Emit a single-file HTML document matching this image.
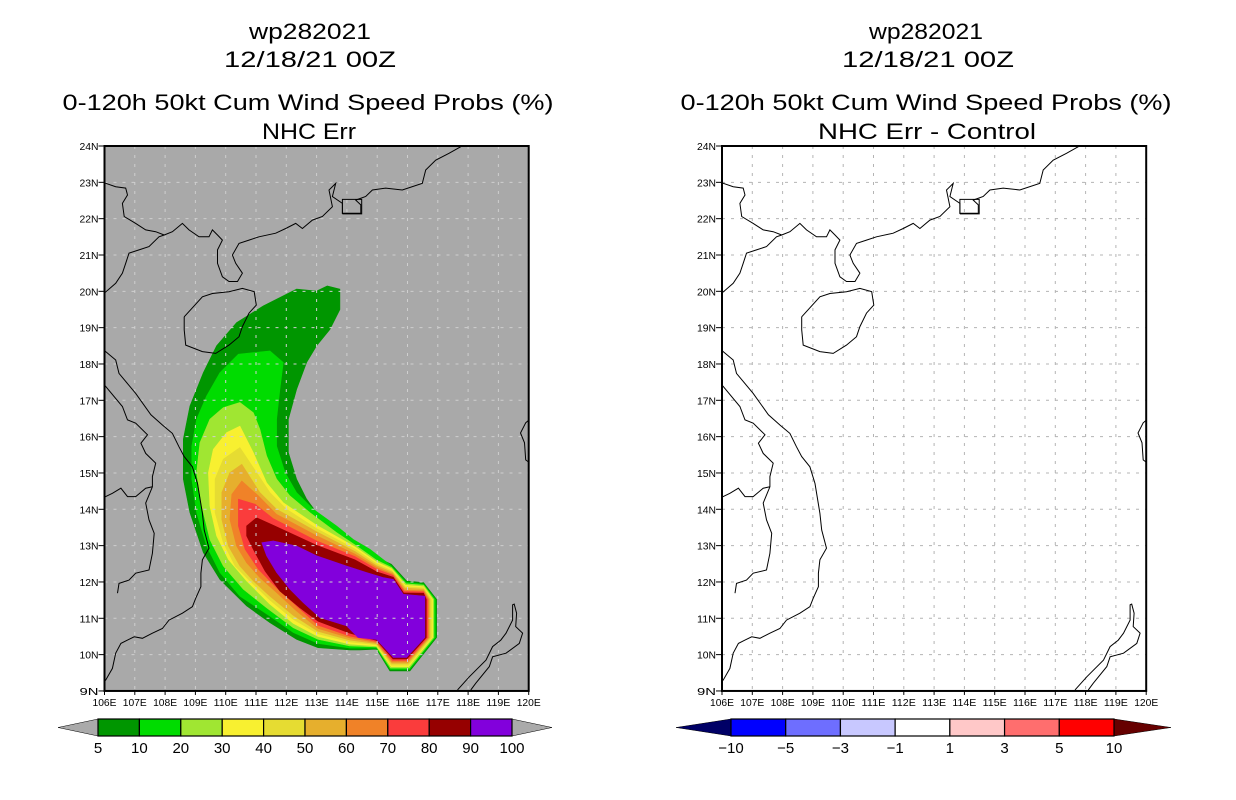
<!DOCTYPE html>
<html><head><meta charset="utf-8"><title>wp282021 wind speed probs</title>
<style>
html,body{margin:0;padding:0;background:#fff;}
svg{display:block;}
text{font-family:"Liberation Sans",Arial,sans-serif;fill:#000;}
</style></head>
<body>
<svg id="fig" width="1236" height="800" viewBox="0 0 1236 800" xmlns="http://www.w3.org/2000/svg">
<rect x="0" y="0" width="1236" height="800" fill="#fff"/>
<g font-size="22">
<text x="310" y="39" text-anchor="middle" textLength="122" lengthAdjust="spacingAndGlyphs">wp282021</text>
<text x="310" y="67" text-anchor="middle" textLength="172" lengthAdjust="spacingAndGlyphs">12/18/21 00Z</text>
<text x="308" y="110" text-anchor="middle" textLength="491" lengthAdjust="spacingAndGlyphs">0-120h 50kt Cum Wind Speed Probs (%)</text>
<text x="309" y="139" text-anchor="middle" textLength="94" lengthAdjust="spacingAndGlyphs">NHC Err</text>
</g>
<g font-size="22">
<text x="926" y="39" text-anchor="middle" textLength="114" lengthAdjust="spacingAndGlyphs">wp282021</text>
<text x="928" y="67" text-anchor="middle" textLength="172" lengthAdjust="spacingAndGlyphs">12/18/21 00Z</text>
<text x="926" y="110" text-anchor="middle" textLength="491" lengthAdjust="spacingAndGlyphs">0-120h 50kt Cum Wind Speed Probs (%)</text>
<text x="927" y="139" text-anchor="middle" textLength="218" lengthAdjust="spacingAndGlyphs">NHC Err - Control</text>
</g>
<defs>
<clipPath id="clipL"><rect x="104.5" y="146" width="424.2" height="545"/></clipPath>
<clipPath id="clipR"><rect x="722" y="146" width="424.2" height="545"/></clipPath>
</defs>
<g id="leftMap"></g>
<g id="rightMap"></g>
<g id="leftBar"></g>
<g id="rightBar"></g>
</svg>
<script>
// ---- data ----
const lonTicks = [106,107,108,109,110,111,112,113,114,115,116,117,118,119,120];
const latTicks = [9,10,11,12,13,14,15,16,17,18,19,20,21,22,23,24];
const probLevels = [5,10,20,30,40,50,60,70,80,90];
const probLabels = ["5","10","20","30","40","50","60","70","80","90","100"];
const probColors = ["#009600","#00dc00","#a0e632","#f8f030","#e6dc32","#e6af2d","#f08228","#fa3c3c","#960000","#8200dc"];
const diffLabels = ["-10","-5","-3","-1","1","3","5","10"];
const diffColors = ["#0000ff","#6e6eff","#c8c8ff","#ffffff","#ffc8c8","#ff6e6e","#ff0000"];
const diffLow = "#000066", diffHigh = "#660000";

const ring5 = [[113.35,20.15],[113.77,20.06],[113.77,19.50],[113.44,18.95],[113.0,18.50],[112.67,18.04],[112.34,17.30],[112.07,16.48],[112.07,15.56],[112.34,14.83],[112.67,14.28],[113.0,13.91],[113.66,13.45],[114.32,13.08],[114.87,12.72],[115.47,12.49],
 [115.97,12.03],[116.53,11.98],[116.96,11.52],[116.96,10.47],[116.08,9.55],[115.42,9.55],[114.98,10.15],
 [114.43,10.13],[114.10,10.13],[113.05,10.19],[112.34,10.42],[111.46,10.88],[110.69,11.34],[109.81,12.07],[109.26,12.81],[108.82,13.91],[108.60,14.83],[108.60,15.93],[108.82,16.84],[109.26,17.76],[109.70,18.50],[110.36,19.14],[111.24,19.60],[112.34,20.06],[113.0,20.01]];
const ring10 = [[110.42,18.27],[111.46,18.36],[111.90,18.04],[111.79,17.30],[111.68,16.48],[111.68,15.74],[111.96,15.01],[112.34,14.46],[112.89,14.0],[113.66,13.54],[114.21,13.17],[114.76,12.90],[115.46,12.45],
 [115.96,11.99],[116.53,11.94],[116.92,11.52],[116.92,10.47],[116.07,9.59],[115.43,9.59],[114.98,10.18],
 [114.10,10.18],[113.05,10.31],[112.23,10.61],[111.46,11.06],[110.47,11.61],[109.81,12.26],[109.37,12.99],[109.04,13.91],[108.88,14.83],[108.88,15.74],[109.04,16.48],[109.37,17.12],[109.81,17.76]];
const ring20 = [[110.47,16.94],[110.91,16.66],[111.13,16.20],[111.35,15.47],[111.68,14.83],[112.12,14.37],[112.78,13.91],[113.66,13.36],[114.32,12.99],[114.98,12.60],[115.47,12.40],
 [115.95,11.95],[116.53,11.91],[116.87,11.52],[116.87,10.47],[116.06,9.63],[115.44,9.63],[114.98,10.21],
 [114.10,10.24],[113.05,10.42],[112.23,10.74],[111.35,11.29],[110.58,11.80],[109.92,12.44],[109.48,13.17],[109.21,14.09],[109.04,15.01],[109.15,15.83],[109.48,16.48],[109.92,16.80]];
const ring30 = [[110.47,16.29],[110.91,15.56],[111.35,14.73],[111.90,14.18],[113.0,13.56],[114.26,12.97],[114.98,12.55],[115.48,12.36],
 [115.93,11.91],[116.53,11.87],[116.83,11.52],[116.83,10.47],[116.04,9.67],[115.46,9.67],[114.98,10.24],
 [114.10,10.29],[113.05,10.50],[112.23,10.86],[111.46,11.39],[110.69,12.03],[110.09,12.62],[109.70,13.27],[109.48,14.09],[109.43,15.01],[109.59,15.65],[110.03,16.11]];
const ring40 = [[110.47,15.70],[111.02,15.01],[111.46,14.46],[112.01,14.0],[113.0,13.47],[114.26,12.91],[114.98,12.50],[115.49,12.31],
 [115.92,11.87],[116.53,11.84],[116.79,11.52],[116.79,10.47],[116.03,9.71],[115.47,9.71],[114.98,10.27],
 [114.10,10.35],[113.05,10.57],[112.23,10.97],[111.46,11.50],[110.80,12.03],[110.31,12.44],[109.92,13.08],[109.65,13.91],[109.65,14.83],[109.92,15.38]];
const ring50 = [[110.53,15.24],[111.13,14.46],[111.68,14.0],[113.0,13.38],[114.26,12.84],[114.98,12.45],[115.50,12.27],
 [115.91,11.83],[116.53,11.80],[116.74,11.52],[116.74,10.47],[116.02,9.76],[115.48,9.76],[114.98,10.30],
 [114.10,10.40],[113.05,10.64],[112.23,11.08],[111.46,11.61],[110.91,12.03],[110.47,12.44],[110.09,12.99],[109.87,13.72],[109.87,14.46],[110.14,15.01]];
const ring60 = [[110.53,14.78],[111.08,14.37],[111.68,13.86],[113.0,13.27],[114.26,12.77],[114.98,12.40],[115.51,12.22],
 [115.90,11.78],[116.53,11.76],[116.70,11.52],[116.70,10.47],[116.01,9.80],[115.49,9.80],[114.98,10.33],
 [114.10,10.46],[113.05,10.72],[112.34,11.20],[111.68,11.71],[111.13,12.12],[110.69,12.53],[110.36,12.99],[110.14,13.72],[110.20,14.41]];
const ring70 = [[110.42,14.28],[110.97,14.14],[111.57,13.74],[113.0,13.13],[114.26,12.70],[114.98,12.35],[115.52,12.18],
 [115.89,11.74],[116.53,11.73],[116.66,11.52],[116.66,10.47],[116.0,9.84],[115.50,9.84],[114.98,10.36],
 [114.10,10.51],[113.05,10.81],[112.34,11.34],[111.68,11.84],[111.08,12.35],[110.64,12.90],[110.42,13.54]];
const ring80 = [[110.69,13.54],[111.02,13.77],[111.57,13.56],[113.0,13.01],[114.26,12.61],[114.98,12.28],[115.53,12.13],
 [115.87,11.70],[116.53,11.69],[116.62,11.52],[116.62,10.47],[115.98,9.88],[115.52,9.88],[114.98,10.39],
 [114.10,10.59],[113.05,10.92],[112.45,11.29],[111.79,11.75],[111.30,12.30],[110.91,12.90],[110.69,13.27]];
const ring90 = [[111.19,13.08],[111.57,13.13],[112.34,12.99],[113.0,12.72],[113.99,12.44],[114.65,12.26],[115.20,12.12],[115.53,12.07],
 [115.86,11.66],[116.57,11.61],[116.57,10.47],[115.97,9.92],[115.53,9.92],[114.98,10.42],
 [114.37,10.47],[113.99,10.79],[113.11,11.02],[112.56,11.43],[112.12,11.80],[111.68,12.26],[111.35,12.72]];
const rings = [ring5,ring10,ring20,ring30,ring40,ring50,ring60,ring70,ring80,ring90];

const coastChina = [[105.98,19.94],[106.37,20.22],[106.59,20.50],[106.70,20.77],[106.81,21.05],[107.14,21.14],[107.47,21.23],[107.80,21.50],[107.97,21.55],[108.24,21.64],[108.57,21.87],[108.79,21.69],[109.12,21.50],[109.45,21.50],[109.56,21.69],[109.73,21.55],[109.89,21.41],[109.73,21.14],[109.73,20.77],[109.89,20.40],[110.11,20.27],[110.39,20.27],[110.55,20.50],[110.33,20.77],[110.22,21.0],[110.44,21.32],[110.77,21.41],[111.10,21.50],[111.65,21.60],[111.98,21.73],[112.31,21.87],[112.53,21.73],[112.86,21.96],[113.19,22.06],[113.52,22.33],[113.41,22.79],[113.63,22.97],[113.52,22.61],[113.85,22.42],[113.85,22.15],[114.46,22.15],[114.46,22.38],[114.29,22.51],[114.62,22.61],[114.84,22.79],[115.28,22.84],[115.83,22.79],[116.49,22.97],[116.60,23.34],[116.93,23.61],[117.37,23.80],[117.76,23.98],[117.80,24.0]];
const borderChinaVn = [[105.98,22.99],[106.37,22.88],[106.70,22.84],[106.76,22.65],[106.59,22.42],[106.65,22.06],[107.03,21.87],[107.36,21.69],[107.69,21.64],[107.97,21.55]];
const hkBox = [[113.85,22.13],[114.49,22.13],[114.49,22.53],[113.85,22.53],[113.85,22.13]];
const hainan = [[108.63,19.30],[109.23,19.85],[109.56,19.94],[110.11,19.99],[110.55,20.08],[110.94,19.99],[111.01,19.62],[110.77,19.40],[110.55,19.03],[110.44,18.75],[110.11,18.52],[109.67,18.29],[109.23,18.34],[108.68,18.52],[108.63,18.94],[108.63,19.30]];
const coastVietnam = [[105.98,18.39],[106.04,18.34],[106.37,18.11],[106.48,17.74],[107.03,17.19],[107.53,16.60],[107.91,16.32],[108.24,16.09],[108.46,15.72],[108.63,15.45],[108.90,15.17],[109.07,14.71],[109.23,13.89],[109.29,13.43],[109.45,12.93],[109.23,12.61],[109.18,12.24],[109.18,11.87],[109.01,11.55],[108.90,11.32],[108.57,11.14],[108.13,10.95],[107.91,10.72],[107.58,10.59],[107.25,10.45],[106.98,10.49],[106.76,10.40],[106.54,10.31],[106.37,10.04],[106.26,9.62],[106.04,9.30],[105.98,9.25]];
const borderLaos = [[105.98,17.45],[106.04,17.38],[106.59,16.83],[106.76,16.46],[107.03,16.37],[107.42,16.05],[107.20,15.82],[107.36,15.54],[107.69,15.27],[107.58,14.90],[107.58,14.62],[107.36,14.17],[107.47,13.71],[107.64,13.34],[107.58,12.79],[107.47,12.33],[107.03,12.24],[106.81,12.05],[106.48,11.96],[106.43,11.69]];
const borderCambodia = [[105.98,14.33],[106.04,14.35],[106.26,14.44],[106.54,14.58],[106.76,14.35],[107.03,14.35],[107.36,14.58],[107.58,14.62]];
const palawan = [[117.65,9.03],[118.04,9.39],[118.59,9.85],[118.81,10.22],[119.08,10.40],[119.25,10.59],[119.47,10.95],[119.47,11.37],[119.52,11.39],[119.60,11.14],[119.57,10.77],[119.80,10.59],[119.69,10.31],[119.25,10.04],[118.81,9.94],[118.70,9.67],[118.25,9.21],[118.09,9.03]];
const luzon = [[120.0,16.45],[119.9,16.38],[119.73,16.1],[119.86,15.83],[119.9,15.36],[120.0,15.30]];
const coastLines = [coastChina,borderChinaVn,hkBox,hainan,coastVietnam,borderLaos,borderCambodia,palawan,luzon];

// ---- helpers ----
const NS = "http://www.w3.org/2000/svg";
const LAT0 = 24, PX_LAT = 36.33, PX_LON = 30.3, TOP = 146;
function xScale(x0){ return lon => x0 + (lon - lonTicks[0]) * PX_LON; }
function yScale(lat){ return TOP + (LAT0 - lat) * PX_LAT; }
function mk(tag, attrs, parent){
  const e = document.createElementNS(NS, tag);
  for (const k in attrs) e.setAttribute(k, attrs[k]);
  parent.appendChild(e);
  return e;
}
function pathOf(pts, X, close){
  return pts.map((p,i)=>(i?"L":"M")+X(p[0]).toFixed(1)+" "+yScale(p[1]).toFixed(1)).join(" ") + (close?" Z":"");
}

function drawMap(g, x0, clipId, bg, withRings, gridColor){
  const X = xScale(x0);
  const W = X(lonTicks[lonTicks.length-1]) - x0, H = yScale(latTicks[0]) - TOP;
  const bgRect = mk("rect", {x:x0, y:TOP, width:W, height:H, fill:bg}, g);
  
  
  const inner = mk("g", {"clip-path":"url(#"+clipId+")"}, g);
  
  
  if (withRings){
    rings.forEach((r,i)=>{
      const p = mk("path", {d:pathOf(r, X, true), fill:probColors[i], stroke:probColors[i], "stroke-width":0.6}, inner);
      
      
    });
  }
  lonTicks.slice(1,-1).forEach(lon=>{
    const l = mk("line", {x1:X(lon), x2:X(lon), y1:TOP, y2:TOP+H, stroke:gridColor, "stroke-width":1, "stroke-dasharray":"3 6"}, inner);
    
    
  });
  latTicks.slice(1,-1).forEach(lat=>{
    const l = mk("line", {x1:x0, x2:x0+W, y1:yScale(lat), y2:yScale(lat), stroke:gridColor, "stroke-width":1, "stroke-dasharray":"3 6"}, inner);
    
    
  });
  coastLines.forEach(c=>{
    const p = mk("path", {d:pathOf(c, X, false), fill:"none", stroke:"#000", "stroke-width":1}, inner);
    
    
  });
  const fr = mk("rect", {x:x0, y:TOP, width:W, height:H, fill:"none", stroke:"#000", "stroke-width":2}, g);
  
  
  latTicks.forEach(lat=>{
    const t = mk("line", {x1:x0-6, x2:x0, y1:yScale(lat), y2:yScale(lat), stroke:"#000", "stroke-width":1}, g);
    
    
    const tx = mk("text", {x:x0-6, y:yScale(lat)+4, "text-anchor":"end", "font-size":10.5, textLength:19, lengthAdjust:"spacingAndGlyphs"}, g);
    tx.textContent = lat + "N";
    
    
  });
  lonTicks.forEach(lon=>{
    const t = mk("line", {x1:X(lon), x2:X(lon), y1:TOP+H, y2:TOP+H+4, stroke:"#000", "stroke-width":1}, g);
    
    
    const tx = mk("text", {x:X(lon), y:TOP+H+15, "text-anchor":"middle", "font-size":10.5, textLength:24, lengthAdjust:"spacingAndGlyphs"}, g);
    tx.textContent = lon + "E";
    
    
  });
}

function drawBar(g, x0, x1, tipL, tipR, colors, lowColor, highColor, labels){
  const y0 = 719, y1 = 736, ym = (y0+y1)/2;
  const n = colors.length, w = (x1-x0)/n;
  const tl = mk("polygon", {points:`${x0},${y0} ${x0},${y1} ${tipL},${ym}`, fill:lowColor, stroke:"#000", "stroke-width":0.5}, g);
  
  
  const tr = mk("polygon", {points:`${x1},${y0} ${x1},${y1} ${tipR},${ym}`, fill:highColor, stroke:"#000", "stroke-width":0.5}, g);
  
  
  colors.forEach((c,i)=>{
    const r = mk("rect", {x:x0+i*w, y:y0, width:w, height:y1-y0, fill:c, stroke:"#000", "stroke-width":1.2}, g);
    
    
  });
  labels.forEach((s,i)=>{
    const t = mk("text", {x:x0+i*w, y:753, "text-anchor":"middle", "font-size":15}, g);
    t.textContent = s.replace("-", "\u2212");
    
    
  });
}

drawMap(document.getElementById("leftMap"), 104.5, "clipL", "#a9a9a9", true, "#cfcfcf");
drawMap(document.getElementById("rightMap"), 722, "clipR", "#ffffff", false, "#b4b4b4");
drawBar(document.getElementById("leftBar"), 98, 512, 58, 552, probColors, "#aaaaaa", "#aaaaaa", probLabels);
drawBar(document.getElementById("rightBar"), 731, 1114, 676, 1171, diffColors, diffLow, diffHigh, diffLabels);
</script>
</body></html>
